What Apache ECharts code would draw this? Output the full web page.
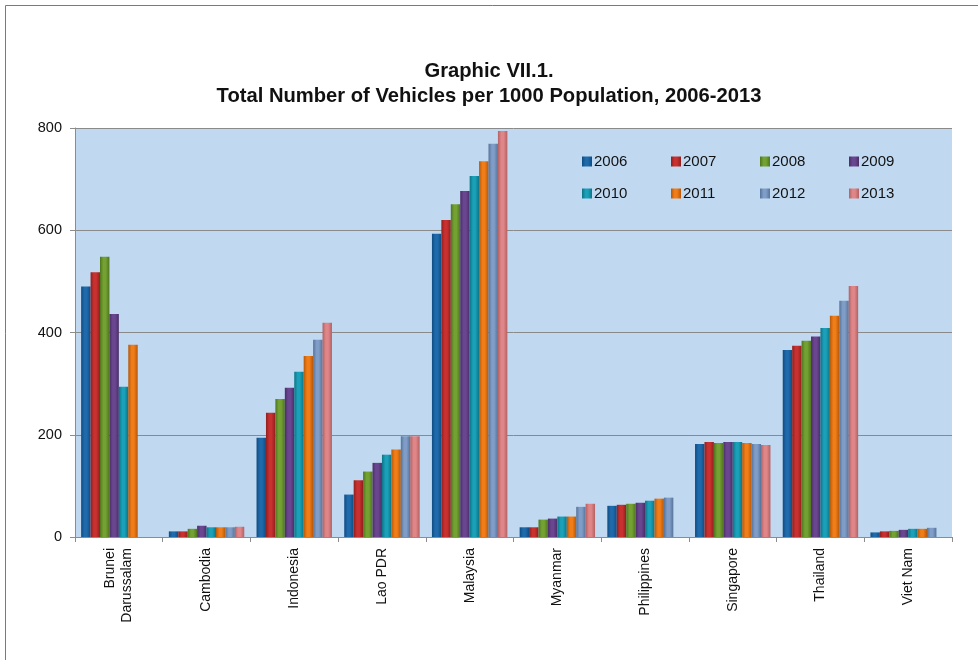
<!DOCTYPE html>
<html>
<head>
<meta charset="utf-8">
<title>Total Number of Vehicles per 1000 Population</title>
<script src="https://cdn.jsdelivr.net/npm/echarts@6/dist/echarts.min.js"></script>
<style>
    html, body { margin: 0; padding: 0; background: #fff; }
    #chart { width: 978px; height: 660px; }
</style>
</head>
<body>
<div id="chart"></div>
<script>
// 国家 / 年份
var countries = ['Brunei\nDarussalam', 'Cambodia', 'Indonesia', 'Lao PDR', 'Malaysia', 'Myanmar', 'Philippines', 'Singapore', 'Thailand', 'Viet Nam'];
var years = ['2006', '2007', '2008', '2009', '2010', '2011', '2012', '2013'];
var yTicks = [0, 200, 400, 600, 800];

// values per year, one entry per country (null = no data)
var v2006 = [490, 11, 194, 83, 593, 19, 61, 182, 366, 9];
var v2007 = [518, 11, 243, 111, 620, 19, 63, 186, 374, 11];
var v2008 = [548, 16, 270, 128, 651, 34, 65, 184, 384, 12];
var v2009 = [436, 22, 292, 145, 677, 36, 67, 186, 392, 14];
var v2010 = [294, 19, 323, 161, 706, 40, 71, 186, 409, 16];
var v2011 = [376, 19, 354, 171, 735, 40, 75, 184, 433, 16];
var v2012 = [null, 19, 386, 197, 769, 59, 77, 182, 462, 18];
var v2013 = [null, 20, 419, 197, 794, 65, null, 180, 491, null];

var values = [v2006, v2007, v2008, v2009, v2010, v2011, v2012, v2013];
var colors = ['#1f6aab', '#c8312f', '#74a232', '#6b4690', '#1aa0b8', '#f07d17', '#7f9dc7', '#e08688'];
var darks  = ['#0f4c82', '#8f1f1e', '#4f7420', '#4a2e67', '#0c7486', '#b5580a', '#56739a', '#b26163'];

function barColor(i) {
    return new echarts.graphic.LinearGradient(0, 0, 1, 0, [
        { offset: 0, color: darks[i] },
        { offset: 0.35, color: colors[i] },
        { offset: 0.6, color: colors[i] },
        { offset: 1, color: darks[i] }
    ]);
}

var series = [];
for (var i = 0; i < years.length; i++) {
    series.push({
        name: years[i],
        type: 'bar',
        barGap: '0%',
        barCategoryGap: '14%',
        data: values[i],
        itemStyle: { color: barColor(i) }
    });
}

// 图例：4列 x 2行，每项单独定位
var legends = [];
for (var j = 0; j < years.length; j++) {
    legends.push({
        data: [years[j]],
        left: 582 + (j % 4) * 89,
        top: 154 + Math.floor(j / 4) * 32,
        itemWidth: 10,
        itemHeight: 10,
        itemGap: 0,
        padding: 0,
        icon: 'rect',
        textStyle: { fontFamily: 'Liberation Sans', fontSize: 15, color: '#111', padding: [0, 0, 0, -3] }
    });
}

var myChart = echarts.init(document.getElementById('chart'));
var option = {
    animation: false,
    backgroundColor: '#fff',
    color: colors,
    title: {
        text: 'Graphic VII.1.\nTotal Number of Vehicles per 1000 Population, 2006-2013',
        left: 'center',
        top: 54,
        textStyle: {
            fontFamily: 'Liberation Sans',
            fontSize: 20.2,
            fontWeight: 'bold',
            color: '#111',
            lineHeight: 25
        }
    },
    graphic: [{
        type: 'rect',
        shape: { x: 5.5, y: 5.5, width: 1000, height: 700 },
        style: { fill: 'none', stroke: '#7a7a7a', lineWidth: 1 },
        silent: true
    }],
    legend: legends,
    grid: {
        left: 75,
        right: 26,
        top: 128,
        bottom: 123,
        containLabel: false,
        show: true,
        backgroundColor: '#c0d9f1',
        borderWidth: 0
    },
    xAxis: [{
        type: 'category',
        data: countries,
        axisLine: { lineStyle: { color: '#8c8c8c' } },
        axisTick: { show: true, alignWithLabel: false, length: 5, lineStyle: { color: '#8c8c8c' } },
        axisLabel: {
            rotate: 90,
            interval: 0,
            margin: 11,
            fontFamily: 'Liberation Sans',
            fontSize: 14,
            color: '#111',
            lineHeight: 17
        }
    }],
    yAxis: [{
        type: 'value',
        min: yTicks[0],
        max: yTicks[yTicks.length - 1],
        interval: 200,
        axisLine: { show: true, lineStyle: { color: '#8c8c8c' } },
        axisTick: { show: true, length: 5, lineStyle: { color: '#8c8c8c' } },
        axisLabel: {
            fontFamily: 'Liberation Sans',
            fontSize: 14.5,
            color: '#111',
            margin: 13
        },
        splitLine: { show: true, lineStyle: { color: '#8a8a8a', width: 1 } }
    }],
    series: series
};

myChart.setOption(option);
window.onresize = myChart.resize;
</script>
</body>
</html>
